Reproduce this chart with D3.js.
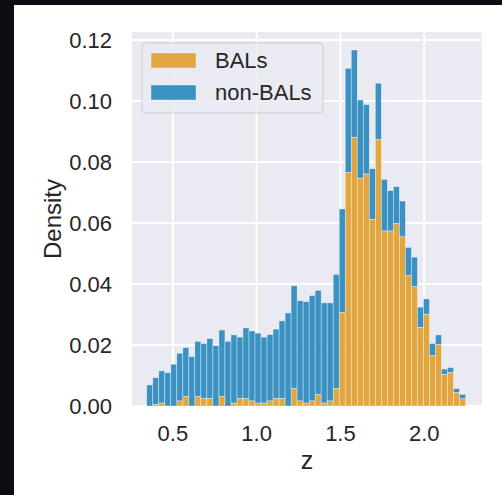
<!DOCTYPE html>
<html>
<head>
<meta charset="utf-8">
<script src="https://cdn.jsdelivr.net/npm/d3@7"></script>
<style>
  body { margin: 0; background: #0c0c13; }
  svg { display: block; }
  text { font-family: "Liberation Sans", Arial, sans-serif; fill: #262626; }
</style>
</head>
<body>
<div id="chart"></div>
<script>
// histogram bins (z), density per bin, stacked
const binStart = 0.344
const binWidth = 0.0359
const bals = [0, 0.0005, 0.001, 0, 0, 0.0017, 0.0032, 0, 0.0032, 0.0025,
  0.0025, 0, 0.0032, 0, 0.001, 0.0025, 0.0025, 0.0017, 0.001, 0.001,
  0.0017, 0.0025, 0.0025, 0, 0.0058, 0.0017, 0.001, 0.0017, 0.0038, 0.001,
  0.0017, 0.0058, 0.0307, 0.0766, 0.0881, 0.0747, 0.0761, 0.0612, 0.0874, 0.0574,
  0.0574, 0.0599, 0.0555, 0.0428, 0.0392, 0.0258, 0.0301, 0.0166, 0.0202, 0.0104,
  0.011, 0.0045, 0.0024]
const nonBals = [0.0069, 0.0088, 0.0105, 0.0109, 0.0137, 0.0156, 0.0159, 0.0162, 0.0180, 0.0180,
  0.0196, 0.0198, 0.0217, 0.0212, 0.0223, 0.0201, 0.0231, 0.0229, 0.0229, 0.0216,
  0.0217, 0.0227, 0.0254, 0.0305, 0.0336, 0.0328, 0.0332, 0.0345, 0.0341, 0.0328,
  0.0321, 0.0373, 0.0339, 0.0341, 0.0286, 0.0256, 0.0227, 0.0166, 0.0184, 0.0169,
  0.0132, 0.0120, 0.0117, 0.0092, 0.0096, 0.0066, 0.0050, 0.0039, 0.0031, 0.0017,
  0.0016, 0.0012, 0.0014]
const seriesNames = ['BALs', 'non-BALs']
const xTicks = [0.5, 1.0, 1.5, 2.0]
const yTicks = [0, 0.02, 0.04, 0.06, 0.08, 0.10, 0.12]

const W = 502, H = 495
const plot = { left: 132, right: 482, top: 32, bottom: 406 }
const bg = '#eaeaf2'
const colors = { 'BALs': '#e1a640', 'non-BALs': '#3b91c2' }

const svg = d3.select('#chart').append('svg')
  .attr('width', W).attr('height', H)

// white figure area
svg.append('rect')
  .attr('x', 14).attr('y', 5)
  .attr('width', W - 14).attr('height', H - 5)
  .attr('fill', '#ffffff')

svg.append('rect')
  .attr('x', plot.left).attr('y', plot.top)
  .attr('width', plot.right - plot.left).attr('height', plot.bottom - plot.top)
  .attr('fill', bg)

////////////// scales //////////////
const x = d3.scaleLinear().domain([0.256, 2.345]).range([plot.left, plot.right])
const y = d3.scaleLinear().domain([0, 0.1226]).range([plot.bottom, plot.top])

////////////// grid //////////////
svg.append('g').selectAll('line')
  .data(xTicks).join('line')
  .attr('x1', d => x(d)).attr('x2', d => x(d))
  .attr('y1', plot.top).attr('y2', plot.bottom)
  .attr('stroke', '#fff').attr('stroke-width', 2)

svg.append('g').selectAll('line')
  .data(yTicks).join('line')
  .attr('x1', plot.left).attr('x2', plot.right)
  .attr('y1', d => y(d)).attr('y2', d => y(d))
  .attr('stroke', '#fff').attr('stroke-width', 2)

////////////// bars //////////////
const rows = bals.map((b, i) => ({ z: binStart + i * binWidth, 'BALs': b, 'non-BALs': nonBals[i] }))
const stacked = d3.stack().keys(seriesNames)(rows)

svg.append('g').selectAll('g')
  .data(stacked).join('g')
  .attr('fill', d => colors[d.key])
  .selectAll('rect')
  .data(d => d).join('rect')
  .attr('x', d => x(d.data.z))
  .attr('width', d => x(d.data.z + binWidth) - x(d.data.z))
  .attr('y', d => y(d[1]))
  .attr('height', d => y(d[0]) - y(d[1]))
  .attr('stroke', '#ffffff')
  .attr('stroke-opacity', 0.6)
  .attr('stroke-width', 0.6)

////////////// axes labels //////////////
svg.append('g').selectAll('text')
  .data(yTicks).join('text')
  .attr('x', 112).attr('y', d => y(d))
  .attr('dy', '0.36em')
  .attr('text-anchor', 'end')
  .attr('font-size', 22)
  .text(d3.format('.2f'))

svg.append('g').selectAll('text')
  .data(xTicks).join('text')
  .attr('x', d => x(d)).attr('y', 441)
  .attr('text-anchor', 'middle')
  .attr('font-size', 22)
  .text(d3.format('.1f'))

svg.append('text')
  .attr('x', x((0.256 + 2.345) / 2)).attr('y', 469)
  .attr('text-anchor', 'middle')
  .attr('font-size', 25)
  .text('z')

svg.append('text')
  .attr('transform', `translate(61,${(plot.top + plot.bottom) / 2}) rotate(-90)`)
  .attr('text-anchor', 'middle')
  .attr('font-size', 24)
  .text('Density')

////////////// legend //////////////
const lg = svg.append('g').attr('transform', 'translate(142,43)')
lg.append('rect')
  .attr('width', 181).attr('height', 70)
  .attr('rx', 4)
  .attr('fill', bg).attr('fill-opacity', 0.85)
  .attr('stroke', '#cccccc').attr('stroke-width', 1)

lg.selectAll('rect.key')
  .data(seriesNames).join('rect')
  .attr('class', 'key')
  .attr('x', 9).attr('y', (d, i) => 10 + i * 32)
  .attr('width', 45).attr('height', 15)
  .attr('fill', d => colors[d])
  .attr('stroke', '#fff').attr('stroke-opacity', 0.6).attr('stroke-width', 0.6)

lg.selectAll('text')
  .data(seriesNames).join('text')
  .attr('x', 73).attr('y', (d, i) => 25 + i * 32)
  .attr('font-size', 22)
  .text(d => d)
</script>
</body>
</html>
